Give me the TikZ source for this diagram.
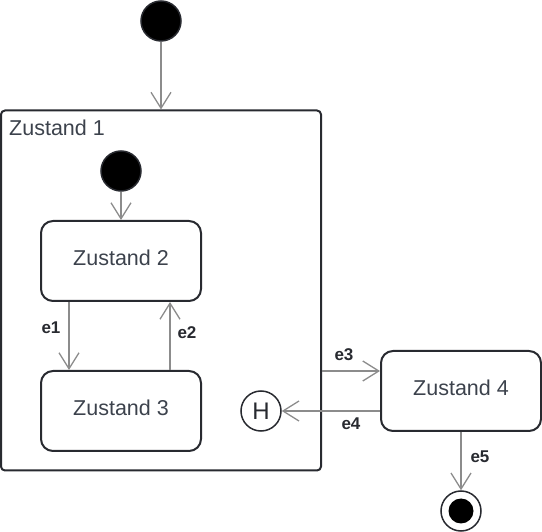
\documentclass[tikz,border=0pt]{standalone}
\usepackage{fontspec}
\setmainfont{Liberation Sans}
\usetikzlibrary{arrows.meta}
\definecolor{bord}{RGB}{40,42,48}
\definecolor{txt}{RGB}{60,66,76}
\definecolor{edg}{RGB}{140,140,140}
\tikzset{
  x=1pt, y=-1pt,
  initstate/.style={circle, fill=black, draw=bord, line width=1.5pt, minimum size=40pt, inner sep=0pt},
  statebox/.style={rectangle, rounded corners=12pt, draw=bord, line width=2pt, minimum width=160pt, minimum height=80pt, text=txt, text depth=6pt, font=\fontsize{21.5}{24}\selectfont},
  compound/.style={rectangle, rounded corners=4pt, draw=bord, line width=2pt, minimum width=320pt, minimum height=360pt, inner sep=0pt},
  histstate/.style={circle, draw=bord, line width=1.5pt, minimum size=40pt, inner sep=0pt, text=bord, font=\fontsize{24}{26}\selectfont},
  finalstate/.style={circle, draw=bord, fill=white, line width=1.5pt, minimum size=40pt, inner sep=0pt},
  edge/.style={draw=edg, line width=1.5pt, -{Straight Barb[length=16pt, width=20pt, line width=1.3pt]}},
  elabel/.style={text=bord, font=\bfseries\fontsize{17}{19}\selectfont, inner sep=0pt}
}
\begin{document}
\begin{tikzpicture}
\useasboundingbox (0,0) rectangle (542,532);
\node[compound] (z1) at (161,290.5) {};
\node[anchor=base west, text=txt, font=\fontsize{21.5}{24}\selectfont, inner sep=0pt] (z1lab) at (9,136) {Zustand 1};
\node[initstate] (i0) at (161,21) {};
\node[initstate] (i1) at (121,171) {};
\node[statebox] (z2) at (121,261) {Zustand 2};
\node[statebox] (z3) at (121,411) {Zustand 3};
\node[statebox] (z4) at (461,391) {Zustand 4};
\node[histstate] (h) at (261,411) {H};
\node[finalstate] (f) at (461,511) {};
\fill[black] (f.center) circle (12.5pt);

\draw[edge] (i0) -- (z1.north);
\draw[edge] (i1) -- (z2);
\draw[edge] ([xshift=-52pt]z2.south) -- ([xshift=-52pt]z3.north);
\draw[edge] ([xshift=49pt]z3.north) -- ([xshift=49pt]z2.south);
\coordinate (a) at ([yshift=20pt]z4.west);
\coordinate (b) at ([yshift=-20pt]z4.west);
\draw[edge] (a -| z1.east) -- (a);
\draw[edge] (b) -- (h);
\draw[edge] (z4) -- (f);

\node[elabel] (l1) at (51,328) {e1};
\node[elabel] (l2) at (187,333) {e2};
\node[elabel] (l3) at (344,355) {e3};
\node[elabel] (l4) at (351,424) {e4};
\node[elabel] (l5) at (480,457) {e5};
\end{tikzpicture}
\end{document}
